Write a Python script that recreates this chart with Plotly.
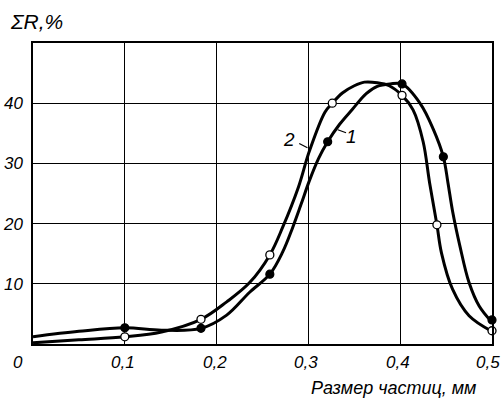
import plotly.graph_objects as go

# Curve 1 (filled markers)
curve1_x = [0.0, 0.05, 0.10, 0.14, 0.183, 0.211, 0.236, 0.258, 0.272, 0.283, 0.292, 0.301,
            0.311, 0.321, 0.334, 0.348, 0.363, 0.375, 0.389, 0.402, 0.422, 0.436, 0.447,
            0.452, 0.457, 0.465, 0.475, 0.486, 0.500]
curve1_y = [1.2, 2.1, 2.7, 2.3, 2.6, 4.8, 8.6, 11.6, 15.3, 19.4, 23.2, 27.1,
            30.8, 33.6, 36.5, 39.0, 41.6, 42.8, 43.2, 43.2, 39.9, 35.7, 31.1,
            26.8, 22.1, 16.3, 10.2, 6.3, 3.6]
marks1_x = [0.10, 0.183, 0.258, 0.321, 0.402, 0.447, 0.500]
marks1_y = [2.7, 2.6, 11.6, 33.6, 43.2, 31.1, 4.0]

# Curve 2 (open markers)
curve2_x = [0.0, 0.05, 0.10, 0.14, 0.183, 0.211, 0.236, 0.258, 0.272, 0.289,
            0.301, 0.318, 0.326, 0.337, 0.350, 0.361, 0.375, 0.388, 0.402, 0.414,
            0.425, 0.432, 0.440, 0.445, 0.457, 0.475, 0.500]
curve2_y = [0.2, 0.7, 1.2, 2.0, 4.1, 7.0, 10.2, 14.8, 19.4, 26.0,
            32.0, 38.5, 40.0, 41.7, 42.9, 43.5, 43.4, 42.9, 41.3, 38.9,
            33.6, 26.8, 19.8, 15.1, 9.1, 4.7, 2.1]
marks2_x = [0.10, 0.183, 0.258, 0.326, 0.402, 0.440, 0.500]
marks2_y = [1.2, 4.1, 14.8, 40.0, 41.3, 19.8, 2.2]

x_ticks = [0.1, 0.2, 0.3, 0.4, 0.5]
x_ticktext = ["0,1", "0,2", "0,3", "0,4", "0,5"]
y_ticks = [10, 20, 30, 40]
y_ticktext = ["10", "20", "30", "40"]

FONT = "Liberation Sans"
LW = 3
TICKFONT = dict(family=FONT, size=17, color="black", style="italic")

fig = go.Figure()
for cx, cy in [(curve1_x, curve1_y), (curve2_x, curve2_y)]:
    fig.add_trace(go.Scatter(x=cx, y=cy, mode="lines",
                             line=dict(color="black", width=LW, shape="spline", smoothing=1.0),
                             hoverinfo="skip", showlegend=False, cliponaxis=False))
fig.add_trace(go.Scatter(x=marks1_x, y=marks1_y, mode="markers",
                         marker=dict(size=8, color="black", line=dict(color="black", width=1.2)),
                         showlegend=False, cliponaxis=False))
fig.add_trace(go.Scatter(x=marks2_x, y=marks2_y, mode="markers",
                         marker=dict(size=8, color="white", line=dict(color="black", width=1.3)),
                         showlegend=False, cliponaxis=False))

# curve labels with leader strokes
fig.add_annotation(x=0.279, y=34.0, text="2", showarrow=False,
                   font=dict(family=FONT, size=19, color="black", style="italic"))
fig.add_shape(type="line", x0=0.290, y0=33.3, x1=0.299, y1=32.6,
              line=dict(color="black", width=1.2))
fig.add_annotation(x=0.347, y=34.4, text="1", showarrow=False,
                   font=dict(family=FONT, size=19, color="black", style="italic"))
fig.add_shape(type="line", x0=0.332, y0=35.6, x1=0.341, y1=35.1,
              line=dict(color="black", width=1.2))

# x tick labels (drawn as annotations so the last one can sit inside the page edge)
for tv, tt in zip(x_ticks, x_ticktext):
    last = tv == x_ticks[-1]
    fig.add_annotation(x=tv, y=0, yref="y", text=tt, showarrow=False,
                       xanchor="right" if last else "center", yanchor="middle",
                       xshift=10 if last else -2, yshift=-18, font=TICKFONT)

# origin label
fig.add_annotation(x=0, y=0, text="0", showarrow=False, xshift=-15, yshift=-18,
                   font=TICKFONT)
# y axis title
fig.add_annotation(xref="paper", yref="paper", x=-0.055, y=1.0, yshift=22,
                   text="ΣR,%", showarrow=False, xanchor="left", yanchor="middle",
                   font=dict(family=FONT, size=21, color="black", style="italic"))
# x axis title
fig.add_annotation(xref="paper", yref="paper", x=0.969, y=0, yshift=-44,
                   text="Размер частиц, мм", showarrow=False, xanchor="right", yanchor="middle",
                   font=dict(family=FONT, size=18, color="black", style="italic"))

fig.update_xaxes(range=[0, 0.5], tickvals=x_ticks, showticklabels=False, automargin=False,
                 showgrid=True, gridcolor="black", gridwidth=1,
                 showline=True, linecolor="black", linewidth=1.5, mirror=True,
                 zeroline=False, ticks="")
fig.update_yaxes(range=[0, 50], tickvals=y_ticks, ticktext=y_ticktext, automargin=False,
                 showgrid=True, gridcolor="black", gridwidth=1,
                 showline=True, linecolor="black", linewidth=1.5, mirror=True,
                 zeroline=False, ticks="", ticklabelstandoff=5, tickfont=TICKFONT)

fig.update_layout(width=502, height=402, margin=dict(l=33, r=10, t=43, b=58, autoexpand=False),
                  paper_bgcolor="white", plot_bgcolor="white", showlegend=False)

fig.write_html("out.html", config={"displayModeBar": False},
               post_script="document.body.style.margin='0';document.body.style.overflow='hidden';")
